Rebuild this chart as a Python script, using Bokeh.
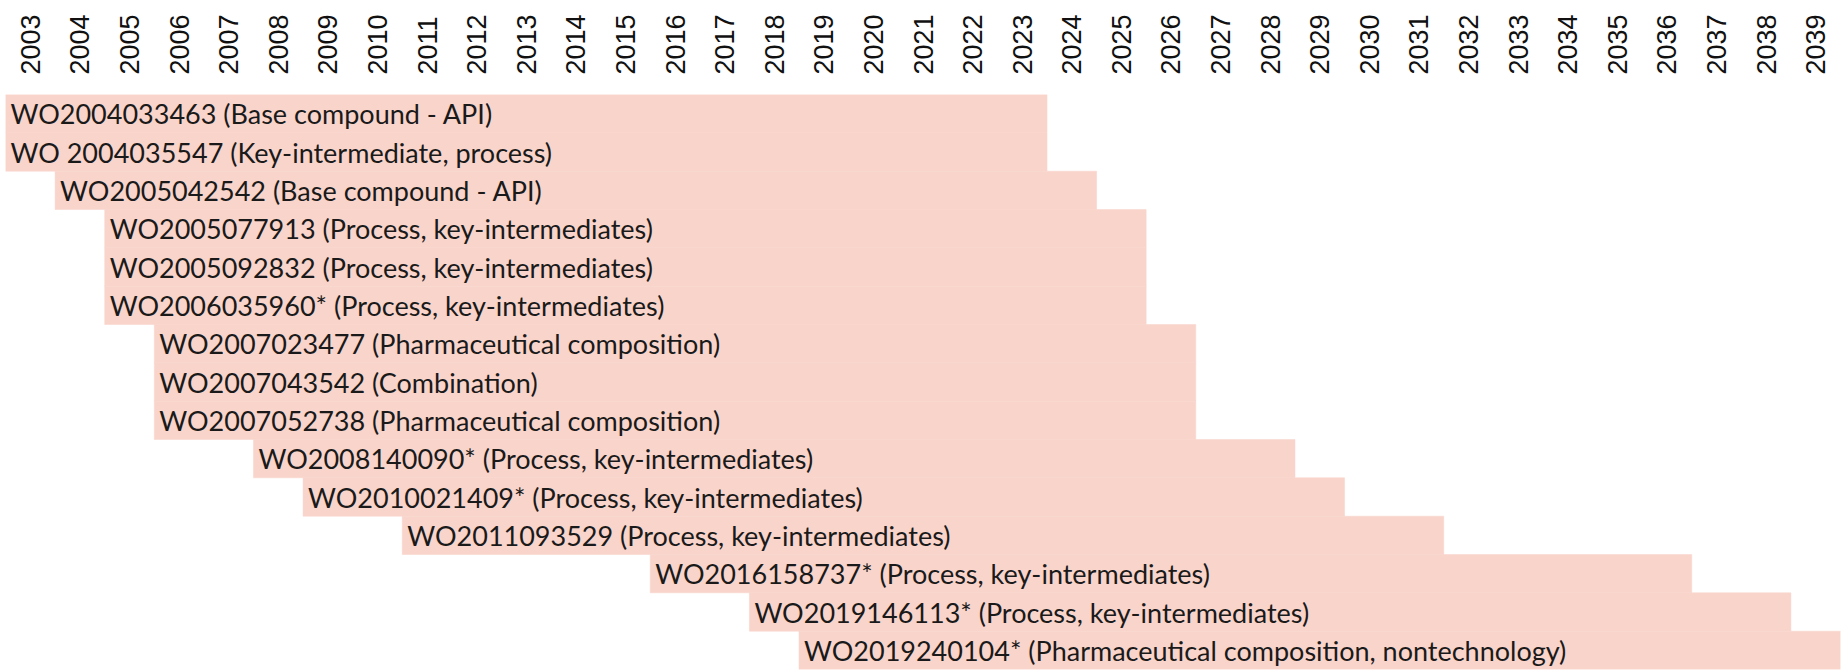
from bokeh.plotting import figure
from bokeh.models import Range1d, FixedTicker, LinearAxis, ColumnDataSource
from bokeh.core.properties import value
from bokeh.embed import file_html
from bokeh.resources import INLINE
import math

years = list(range(2003, 2040))
patents = [
    "WO2004033463 (Base compound - API)",
    "WO 2004035547 (Key-intermediate, process)",
    "WO2005042542 (Base compound - API)",
    "WO2005077913 (Process, key-intermediates)",
    "WO2005092832 (Process, key-intermediates)",
    "WO2006035960* (Process, key-intermediates)",
    "WO2007023477 (Pharmaceutical composition)",
    "WO2007043542 (Combination)",
    "WO2007052738 (Pharmaceutical composition)",
    "WO2008140090* (Process, key-intermediates)",
    "WO2010021409* (Process, key-intermediates)",
    "WO2011093529 (Process, key-intermediates)",
    "WO2016158737* (Process, key-intermediates)",
    "WO2019146113* (Process, key-intermediates)",
    "WO2019240104* (Pharmaceutical composition, nontechnology)",
]
start_year = [2003, 2003, 2004, 2005, 2005, 2005, 2006, 2006, 2006, 2008, 2009, 2011, 2016, 2018, 2019]
end_year = [2023, 2023, 2024, 2025, 2025, 2025, 2026, 2026, 2026, 2028, 2029, 2031, 2036, 2038, 2039]

n = len(patents)
src = ColumnDataSource(dict(
    row=[i + 0.5 for i in range(n)],
    left=[s - 0.5 for s in start_year],
    right=[e + 0.5 for e in end_year],
    label=patents,
))

p = figure(width=1845, height=670, output_backend="svg", toolbar_location=None,
           x_range=Range1d(years[0] - 0.5, years[-1] + 0.5),
           y_range=Range1d(n, 0),
           x_axis_location=None, y_axis_location=None,
           min_border_left=5, min_border_right=5, min_border_bottom=1, min_border_top=94)
p.outline_line_color = None
p.xgrid.visible = False
p.ygrid.visible = False

p.hbar(y="row", left="left", right="right", height=1.0, source=src,
       fill_color="#F9D4CB", line_color="#F9D4CB", line_width=0.5)
p.text(x="left", y="row", text="label", source=src, x_offset=5,
       text_baseline="middle", text_align="left",
       text_font=value("Lato"), text_font_size="27px", text_color="#1a1a1a")

ax = LinearAxis(ticker=FixedTicker(ticks=years))
ax.axis_line_color = None
ax.major_tick_line_color = None
ax.minor_tick_line_color = None
ax.major_tick_in = 0
ax.major_tick_out = 0
ax.minor_tick_in = 0
ax.minor_tick_out = 0
ax.major_label_orientation = math.pi / 2
ax.major_label_standoff = 20
ax.major_label_text_font = "Liberation Sans"
ax.major_label_text_font_size = "27px"
ax.major_label_text_color = "#111111"
p.add_layout(ax, "above")

open("out.html", "w").write(file_html(p, INLINE))
